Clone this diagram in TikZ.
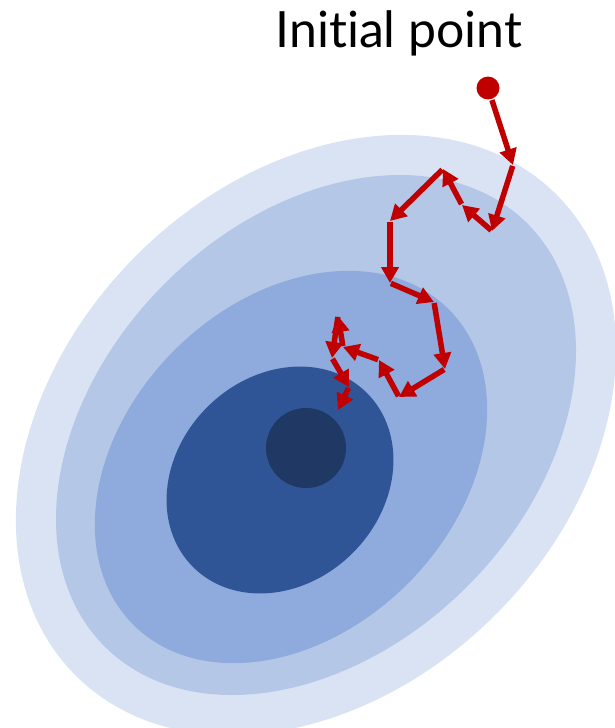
\documentclass[tikz,border=0pt]{standalone}
\usepackage{fontspec}
\setmainfont{Lato}[Ligatures={NoCommon}]
\usepackage{xcolor}
\usetikzlibrary{arrows.meta}

\definecolor{levelA}{HTML}{DAE3F3}
\definecolor{levelB}{HTML}{B4C7E7}
\definecolor{levelC}{HTML}{8FAADC}
\definecolor{levelD}{HTML}{2F5597}
\definecolor{levelE}{HTML}{203864}
\definecolor{walkred}{HTML}{C00000}

\tikzset{
  walk/.style={draw=walkred, line width=5.5pt, shorten <=1pt,
    -{Triangle[length=16pt,width=17pt]}},
}

\begin{document}
\begin{tikzpicture}[x=1pt, y=-1pt]
          \useasboundingbox (0,0) rectangle (615,728);

          % level sets
          \fill[levelA, rotate around={45:(316,435)}] (316,435) ellipse [x radius=340, y radius=254];
          \fill[levelB, rotate around={45:(316,435)}] (316,435) ellipse [x radius=299, y radius=214];
          \fill[levelC, rotate around={45:(291,467)}] (291,467) ellipse [x radius=223, y radius=165];
          \fill[levelD, rotate around={45:(280,480)}] (280,480) ellipse [x radius=123, y radius=103];
          \fill[levelE] (306,448) circle [radius=40];

          \node[font=\fontsize{50}{60}\selectfont] (title) at (399,33) {Initial point};
          \node[circle, fill=walkred, minimum size=23pt, inner sep=0pt] (start) at (488,88) {};

          \coordinate (a) at (513,165);
          \coordinate (b) at (492,231);
          \coordinate (c) at (462,205);
          \coordinate (d) at (443,169);
          \coordinate (e) at (390,221);
          \coordinate (f) at (390,283);
          \coordinate (g) at (434,302);
          \coordinate (h) at (445,369);
          \coordinate (i) at (399,397);
          \coordinate (j) at (379,360);
          \coordinate (k) at (343,347);
          \coordinate (l) at (338,316);
          \coordinate (m) at (332,358);
          \coordinate (n) at (349,387);
          \coordinate (o) at (338,410);

          \draw[walk] (start) -- (a);
          \draw[walk] (a) -- (b);
          \draw[walk] (b) -- (c);
          \draw[walk] (c) -- (d);
          \draw[walk] (d) -- (e);
          \draw[walk] (e) -- (f);
          \draw[walk] (f) -- (g);
          \draw[walk] (g) -- (h);
          \draw[walk] (h) -- (i);
          \draw[walk] (i) -- (j);
          \draw[walk] (j) -- (k);
          \draw[walk] (k) -- (l);
          \draw[walk] (l) -- (m);
          \draw[walk] (m) -- (n);
          \draw[walk] (n) -- (o);
        \end{tikzpicture}
\end{document}
